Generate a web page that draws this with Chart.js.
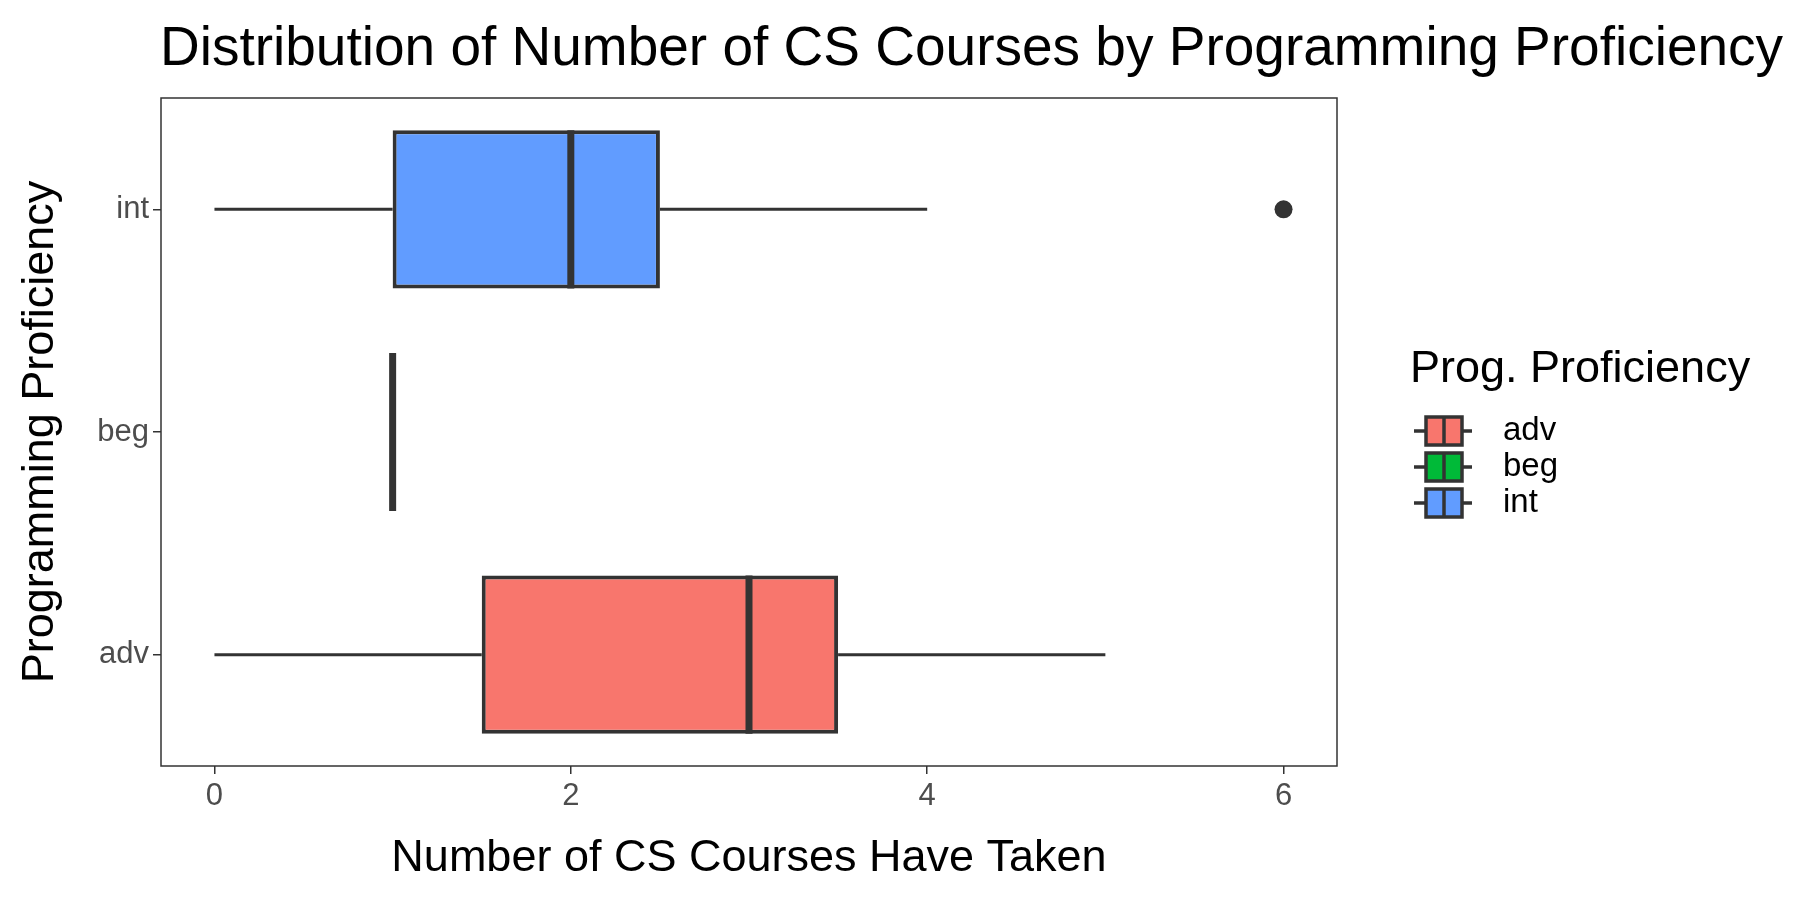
<!DOCTYPE html>
<html>
<head>
<meta charset="utf-8">
<script src="https://cdn.jsdelivr.net/npm/chart.js@4"></script>
<style>
  body { margin: 0; background: #fff; }
  #wrap { position: relative; width: 1800px; height: 900px; }
  #title { position: absolute; left: 160px; top: 14px; font: 55px "Liberation Sans", Arial, sans-serif; color: #000; white-space: nowrap; }
</style>
</head>
<body>
<div id="wrap">
  <div id="title">Distribution of Number of CS Courses by Programming Proficiency</div>
  <canvas id="box_chart" width="1800" height="900"></canvas>
</div>
<script>
const categories = ['adv', 'beg', 'int'];
const mins    = [0,   1, 0];
const q1s     = [1.5, 1, 1];
const medians = [3,   1, 2];
const q3s     = [3.5, 1, 2.5];
const maxs    = [5,   1, 4];
const outliers = [[], [], [6]];
const colors  = ['#F8766D', '#00BA38', '#619CFF'];
const xTicks  = [0, 2, 4, 6];

const font = '"Liberation Sans", Arial, sans-serif';
const ink = '#333333';

const boxPlugin = {
    id: 'boxExtras',
    afterDatasetsDraw(chart) {
        const ctx = chart.ctx;
        const x = chart.scales.x, y = chart.scales.y;
        const half = y.getPixelForValue(0) - y.getPixelForValue(1);
        const h = Math.abs(half) * 0.71 / 2;
        ctx.save();
        ctx.strokeStyle = ink;
        categories.forEach((c, i) => {
            const yc = y.getPixelForValue(i);
            ctx.lineWidth = 3;
            ctx.beginPath();
            ctx.moveTo(x.getPixelForValue(mins[i]), yc);
            ctx.lineTo(x.getPixelForValue(q1s[i]), yc);
            ctx.moveTo(x.getPixelForValue(q3s[i]), yc);
            ctx.lineTo(x.getPixelForValue(maxs[i]), yc);
            ctx.stroke();
            ctx.lineWidth = 7;
            ctx.beginPath();
            ctx.moveTo(x.getPixelForValue(medians[i]), yc - h);
            ctx.lineTo(x.getPixelForValue(medians[i]), yc + h);
            ctx.stroke();
            ctx.fillStyle = ink;
            outliers[i].forEach(v => {
                ctx.beginPath();
                ctx.arc(x.getPixelForValue(v), yc, 9, 0, Math.PI * 2);
                ctx.fill();
            });
        });
        // panel border
        const a = chart.chartArea;
        ctx.lineWidth = 1.5;
        ctx.strokeStyle = '#333';
        ctx.strokeRect(a.left, a.top, a.right - a.left, a.bottom - a.top);

        // legend
        const lx = 1410;
        ctx.fillStyle = '#000';
        ctx.font = '45px ' + font;
        ctx.textBaseline = 'middle';
        ctx.fillText('Prog. Proficiency', lx, 370);
        ctx.font = '33px ' + font;
        categories.forEach((c, i) => {
            const ky = 431 + i * 36;
            ctx.strokeStyle = ink;
            ctx.lineWidth = 3.5;
            ctx.beginPath();
            ctx.moveTo(lx + 4, ky); ctx.lineTo(lx + 16, ky);
            ctx.moveTo(lx + 52, ky); ctx.lineTo(lx + 62, ky);
            ctx.stroke();
            ctx.fillStyle = colors[i];
            ctx.fillRect(lx + 16, ky - 14, 36, 28);
            ctx.strokeRect(lx + 16, ky - 14, 36, 28);
            ctx.beginPath();
            ctx.moveTo(lx + 34, ky - 14); ctx.lineTo(lx + 34, ky + 14);
            ctx.stroke();
            ctx.fillStyle = '#000';
            ctx.fillText(c, lx + 93, ky);
        });
        ctx.restore();
    }
};

const ctx = document.getElementById('box_chart').getContext('2d');
new Chart(ctx, {
    type: 'bar',
    data: {
        labels: categories,
        datasets: [{
            data: categories.map((c, i) => [q1s[i], q3s[i]]),
            backgroundColor: colors,
            borderColor: ink,
            borderWidth: 4,
            borderSkipped: false,
            barPercentage: 0.71,
            categoryPercentage: 1
        }]
    },
    options: {
        responsive: false,
        animation: false,
        indexAxis: 'y',
        layout: { padding: { top: 98, right: 463, bottom: 10, left: 10 } },
        plugins: { legend: { display: false }, tooltip: { enabled: false } },
        scales: {
            x: {
                min: -0.3, max: 6.3,
                afterBuildTicks: axis => { axis.ticks = xTicks.map(v => ({ value: v })); },
                afterFit: axis => { axis.height = 124; },
                grid: { drawOnChartArea: false, drawTicks: true, tickLength: 8, color: ink, lineWidth: 1.5 },
                border: { display: false },
                ticks: { color: '#4d4d4d', font: { family: font, size: 31 }, padding: 4 },
                title: { display: true, text: 'Number of CS Courses Have Taken', color: '#000', font: { family: font, size: 45 }, padding: { top: 4 } }
            },
            y: {
                reverse: true,
                afterFit: axis => { axis.width = 151; },
                grid: { drawOnChartArea: false, drawTicks: true, tickLength: 8, color: ink, lineWidth: 1.5, offset: false },
                border: { display: false },
                ticks: { color: '#4d4d4d', font: { family: font, size: 31 }, padding: 4 },
                title: { display: true, text: 'Programming Proficiency', color: '#000', font: { family: font, size: 45 }, padding: { bottom: 4 } }
            }
        }
    },
    plugins: [boxPlugin]
});
</script>
</body>
</html>
